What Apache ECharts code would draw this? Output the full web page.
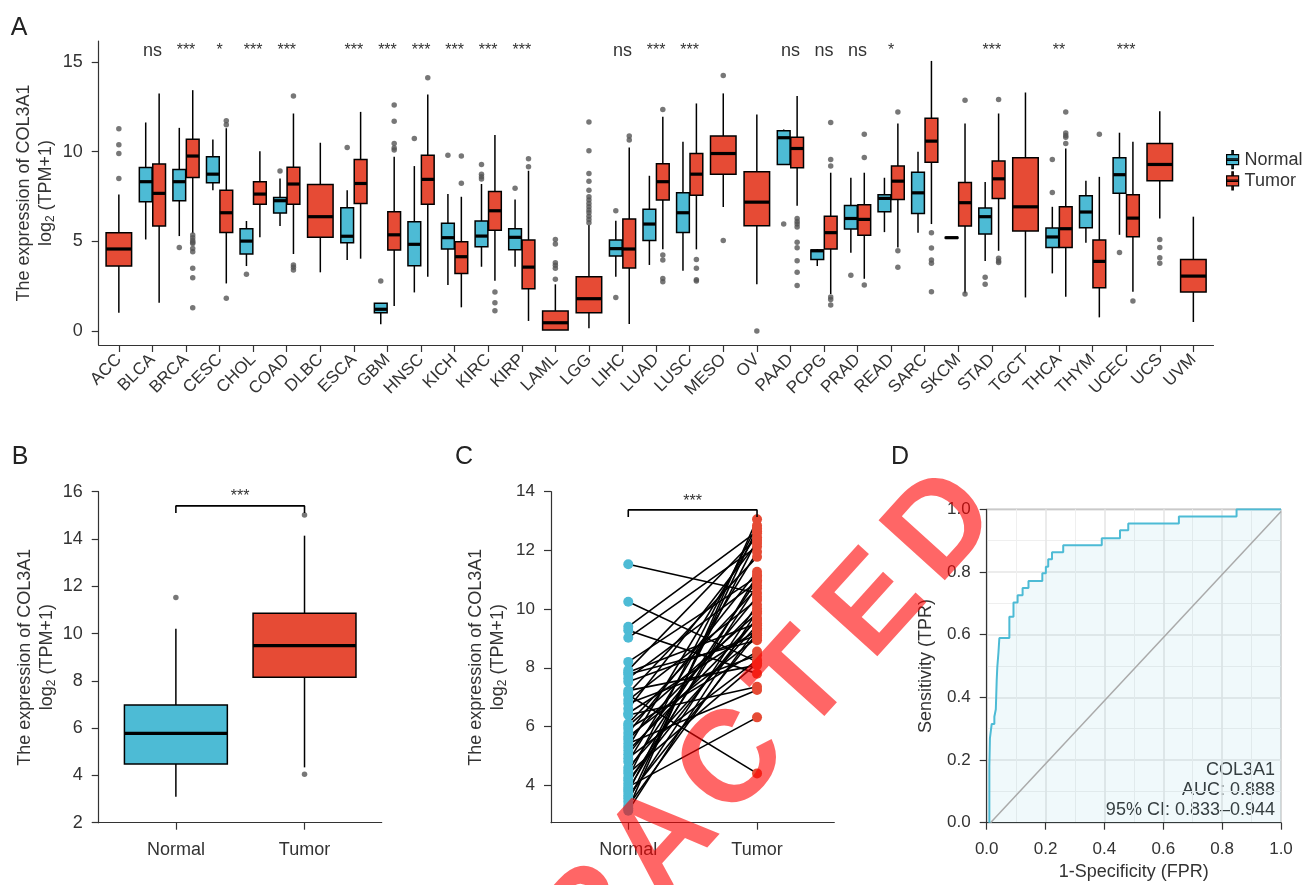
<!DOCTYPE html>
<html>
<head>
<meta charset="utf-8">
<script src="https://cdn.jsdelivr.net/npm/echarts@6/dist/echarts.min.js"></script>
<style>
  html, body { margin: 0; padding: 0; background: #fff; }
  #main { width: 1306px; height: 885px; }
</style>
</head>
<body>
<div id="main"></div>
<script>
var FONT = 'Liberation Sans, Arial, Helvetica, sans-serif';
var BLUE = '#4DBBD5', RED = '#E64B35';

// ---- panel A : pan-cancer box plots ----
var cancers = ['ACC','BLCA','BRCA','CESC','CHOL','COAD','DLBC','ESCA','GBM','HNSC','KICH','KIRC','KIRP',
    'LAML','LGG','LIHC','LUAD','LUSC','MESO','OV','PAAD','PCPG','PRAD','READ','SARC','SKCM','STAD',
    'TGCT','THCA','THYM','UCEC','UCS','UVM'];

// [lower whisker, q1, median, q3, upper whisker]
var normalStats = [
    null, [5.10,7.20,8.32,9.11,11.62], [5.29,7.26,8.32,9.00,11.32], [7.85,8.26,8.74,9.71,10.67],
    [3.62,4.29,5.01,5.70,6.13], [5.85,6.57,7.26,7.44,8.50], null, [3.95,4.92,5.28,6.87,7.85],
    [0.37,1.02,1.21,1.54,1.54], [2.15,3.64,4.83,6.09,9.19], [2.56,4.57,5.20,6.00,7.63],
    [3.58,4.70,5.29,6.13,8.19], [3.58,4.53,5.22,5.70,7.33], null, null, [3.03,4.18,4.59,5.07,6.14],
    [3.68,5.05,5.96,6.78,8.65], [3.36,5.49,6.59,7.70,10.54], null, null, [9.28,9.28,10.77,11.16,11.23],
    [3.62,3.99,4.47,4.51,4.57], [4.36,5.68,6.27,7.00,8.54], [5.51,6.65,7.39,7.59,8.54],
    [5.48,6.55,7.70,8.85,9.99], [5.17,5.18,5.20,5.22,5.23], [3.90,5.40,6.37,6.85,8.30], null,
    [3.21,4.66,5.24,5.74,6.92], [4.92,5.75,6.63,7.54,8.37], [5.36,7.67,8.71,9.65,11.05], null, null
];
var tumorStats = [
    [1.02,3.62,4.57,5.48,7.61], [1.58,5.85,7.67,9.30,13.24], [5.44,8.56,9.75,10.69,13.42],
    [2.65,5.49,6.59,7.85,11.30], [5.22,7.07,7.63,8.32,10.02], [4.29,7.07,8.19,9.13,12.12],
    [3.27,5.22,6.37,8.17,10.49], [4.03,7.11,8.22,9.56,12.21], [1.39,4.51,5.36,6.65,9.71],
    [3.03,7.07,8.45,9.80,13.18], [1.32,3.21,4.14,4.97,7.48], [2.80,5.62,6.70,7.78,10.92],
    [0.56,2.36,3.56,5.07,8.93], [0.06,0.06,0.46,1.11,2.60], [0.15,1.02,1.80,3.03,5.90],
    [0.39,3.51,4.57,6.24,10.23], [4.55,7.30,8.32,9.32,11.94], [4.55,7.57,8.74,9.89,12.68],
    [6.91,8.74,9.89,10.86,13.24], [2.60,5.87,7.18,8.87,12.07], [6.98,9.10,10.17,10.79,13.09],
    [2.06,4.57,5.48,6.40,8.82], [2.91,5.33,6.22,7.04,8.82], [4.66,7.33,8.35,9.19,11.56],
    [5.96,9.41,10.58,11.86,15.05], [2.10,5.85,7.15,8.28,11.56], [4.47,7.39,8.48,9.47,12.12],
    [1.87,5.57,6.92,9.65,13.29], [1.91,4.66,5.70,6.92,10.17], [0.76,2.41,3.88,5.07,8.59],
    [2.19,5.25,6.29,7.59,10.54], [6.27,8.37,9.28,10.45,12.25], [0.50,2.17,3.06,3.99,6.37]
];
var normalOutliers = [
    [], [], [4.66], [], [3.16], [8.91], [], [10.23], [2.78], [10.73], [9.80], [9.28,8.74,8.59,8.47],
    [7.95], [], [], [6.70,1.87], [], [], [], [], [5.96], [], [3.10], [], [], [], [2.99,2.60], [],
    [9.56,7.72], [], [4.38], [], []
];
var tumorOutliers = [
    [11.27,10.38,9.89,8.50], [], [5.35,5.20,5.05,4.95,4.88,4.60,4.42,3.49,2.97,1.30], [11.71,11.50,1.82],
    [], [13.09,3.68,3.55,3.40], [], [], [12.59,11.69,10.45,10.20,10.08], [14.11], [9.75,8.24],
    [2.17,1.58,1.13], [9.60,9.15], [5.10,4.85,3.80,3.66,3.49,2.88],
    [11.64,10.04,8.78,8.35,7.85,7.48,7.30,7.11,6.92,6.74,6.59,6.40,6.22,6.03], [10.86,10.64],
    [12.34,4.23,3.95,2.93,2.75], [3.99,3.49,2.86,2.78], [14.24,5.05], [0.0],
    [6.27,6.10,5.96,5.80,4.94,4.64,3.92,3.27,2.54], [11.62,9.56,9.19,1.90,1.75,1.45], [10.97,9.67,2.56],
    [12.21,4.47,3.55], [5.48,4.62,3.95,3.77,2.19], [12.86,2.06], [12.90,4.05,3.90,3.82], [],
    [12.21,11.04,10.90,10.79,10.45], [10.97], [1.67], [5.10,4.66,4.08,3.77], []
];
var signif = ['', 'ns', '***', '*', '***', '***', '', '***', '***', '***', '***', '***', '***', '', '',
    'ns', '***', '***', '', '', 'ns', 'ns', 'ns', '*', '', '', '***', '', '**', '', '***', '', ''];

// ---- panel B : all normal vs all tumor ----
var groups = ['Normal', 'Tumor'];
var statsB = [[3.10,4.48,5.78,6.98,10.20], [4.34,8.15,9.49,10.86,14.14]];
var outliersB = [[11.52], [15.01,4.05]];

// ---- panel C : paired samples ----
var pairedNormal = [11.53,10.25,9.40,9.28,9.02,8.20,7.92,7.85,7.78,7.64,7.52,7.22,7.13,7.07,6.90,6.78,
    6.60,6.45,6.39,6.10,6.02,5.92,5.78,5.65,5.55,5.42,5.30,5.18,5.05,4.92,4.80,4.60,4.50,4.40,4.26,
    4.17,4.05,3.94,3.85,3.77,3.65,3.55,3.43,3.30,3.20,3.13];
var pairedTumor = [10.55,8.20,12.65,7.80,12.13,11.10,12.45,9.52,8.94,10.93,9.11,8.09,11.78,4.40,10.31,
    8.43,12.25,9.28,7.35,10.70,9.85,8.55,11.27,9.02,10.02,7.24,12.58,9.63,10.42,8.26,11.95,9.45,10.98,
    8.15,12.85,9.70,10.80,6.31,11.15,12.35,9.18,10.15,12.75,9.35,13.06,9.92];

// ---- panel D : ROC ----
var rocFpr = [0.009,0.009,0.011,0.017,0.026,0.031,0.034,0.036,0.040,0.043,0.077,0.091,0.105,0.122,0.142,
    0.189,0.201,0.209,0.222,0.260,0.391,0.453,0.481,0.653,0.849,1.0];
var rocTpr = [0,0.180,0.270,0.315,0.338,0.362,0.455,0.496,0.544,0.589,0.657,0.703,0.726,0.749,0.771,
    0.796,0.817,0.841,0.863,0.885,0.908,0.933,0.955,0.977,1.0,1.0];
var rocText = ['COL3A1', 'AUC: 0.888', '95% CI: 0.833\u20130.944'];

// build box data: [x, low, q1, med, q3, high, halfWidth]
var normalBoxes = [], tumorBoxes = [], outliersA = [], signifA = [], signifText = [];
cancers.forEach(function (c, i) {
    var x = i + 1, paired = normalStats[i] != null;
    if (paired) normalBoxes.push([x - 0.2].concat(normalStats[i], [0.19]));
    tumorBoxes.push([paired ? x + 0.2 : x].concat(tumorStats[i], [paired ? 0.19 : 0.38]));
    normalOutliers[i].forEach(function (v) { outliersA.push([x - 0.2, v]); });
    tumorOutliers[i].forEach(function (v) { outliersA.push([paired ? x + 0.2 : x, v]); });
    if (signif[i]) { signifA.push([x, 15.6]); signifText.push(signif[i]); }
});
var boxesB = statsB.map(function (s, i) {
    return {value: [i + 1].concat(s, [0.4]), itemStyle: {color: i === 0 ? BLUE : RED}};
});
var outB = [];
outliersB.forEach(function (arr, i) { arr.forEach(function (v) { outB.push([i + 1, v]); }); });

function renderBox(params, api) {
    var x = api.value(0), hw = api.value(6);
    var lo = api.coord([x, api.value(1)]), q1 = api.coord([x, api.value(2)]);
    var md = api.coord([x, api.value(3)]), q3 = api.coord([x, api.value(4)]);
    var hi = api.coord([x, api.value(5)]);
    var l = api.coord([x - hw, 0])[0], r = api.coord([x + hw, 0])[0];
    var ln = {stroke: '#000', lineWidth: 1.5};
    return {type: 'group', children: [
        {type: 'line', shape: {x1: lo[0], y1: lo[1], x2: q1[0], y2: q1[1]}, style: ln},
        {type: 'line', shape: {x1: q3[0], y1: q3[1], x2: hi[0], y2: hi[1]}, style: ln},
        {type: 'rect', shape: {x: l, y: q3[1], width: r - l, height: q1[1] - q3[1]},
            style: {fill: api.visual('color'), stroke: '#000', lineWidth: 1.5}},
        {type: 'line', shape: {x1: l, y1: md[1], x2: r, y2: md[1]}, style: {stroke: '#000', lineWidth: 3.2}}
    ]};
}
function textRenderer(labels) {
    return function (params, api) {
        var p = api.coord([api.value(0), api.value(1)]);
        var t = labels[params.dataIndex];
        return {type: 'text', x: p[0], y: p[1], style: {text: t, fill: '#333',
            fontSize: t === 'ns' ? 18 : 16, fontFamily: FONT, align: 'center', verticalAlign: 'middle'}};
    };
}

var axisLine = {show: true, onZero: false, lineStyle: {color: '#333', width: 1.2}};
function mkAxis(grid, min, max, ticks, fmt, labelSize, margin) {
    return {
        gridIndex: grid, type: 'value', min: min, max: max,
        axisLine: axisLine,
        axisTick: {show: true, length: 7, customValues: ticks, lineStyle: {color: '#333', width: 1.2}},
        axisLabel: {customValues: ticks, formatter: fmt, color: '#333', fontSize: labelSize,
            fontFamily: FONT, margin: margin},
        splitLine: {show: false}
    };
}
var yTitle = '{a|The expression of COL3A1}\n{a|log}{s|2}{a| (TPM+1)}';
var yTitleStyle = {color: '#333', fontFamily: FONT, fontSize: 18,
    rich: {a: {fontSize: 18, fontFamily: FONT, color: '#333', lineHeight: 22},
           s: {fontSize: 12, fontFamily: FONT, color: '#333', verticalAlign: 'bottom'}}};
function withName(ax, name, gap, style) {
    ax.name = name; ax.nameLocation = 'middle'; ax.nameGap = gap; ax.nameTextStyle = style;
    ax.nameMoveOverlap = false;
    return ax;
}

var catTicks = cancers.map(function (c, i) { return i + 1; });
var grpFmt = function (v) { return groups[v - 1]; };
var fmt0 = function (v) { return String(v); };
var fmt1 = function (v) { return v.toFixed(1); };
var unitTicks = [0, 0.2, 0.4, 0.6, 0.8, 1.0];

var xA = mkAxis(0, 0.4, 33.6, catTicks, function (v) { return cancers[v - 1]; }, 17, 12);
xA.axisLabel.rotate = 45;
var xD = withName(mkAxis(3, 0, 1, unitTicks, fmt1, 17, 18), '1-Specificity (FPR)', 40,
    {color: '#333', fontFamily: FONT, fontSize: 18});
var yD = withName(mkAxis(3, 0, 1, unitTicks, fmt1, 17, 16), 'Sensitivity (TPR)', 52,
    {color: '#333', fontFamily: FONT, fontSize: 18});
[xD, yD].forEach(function (ax) {
    ax.interval = 0.2;
    ax.splitLine = {show: true, lineStyle: {color: '#e6e6e6', width: 1.6}};
    ax.minorTick = {show: false, splitNumber: 2};
    ax.minorSplitLine = {show: true, lineStyle: {color: '#efefef', width: 1}};
});

var watermark = 'RETRACTED'.split('').map(function (ch, i) {
    return {type: 'text', x: 664 + (i - 4) * 70, y: 842 - (i - 4) * 78.5, rotation: 0.835, z: 100,
        style: {text: ch, fill: 'rgba(255,0,0,0.6)', fontSize: 130, fontWeight: 'bold', fontFamily: FONT,
            align: 'center', verticalAlign: 'middle'}};
});
var panelLetters = [['A', 19, 28], ['B', 20, 457], ['C', 464, 457], ['D', 900, 457]].map(function (p) {
    return {type: 'text', x: p[1], y: p[2], style: {text: p[0], fill: '#222', fontSize: 25, fontFamily: FONT,
        align: 'center', verticalAlign: 'middle'}};
});
var aucLabels = rocText.map(function (t, i) {
    return {type: 'text', x: 1275, y: 770 + i * 20, style: {text: t, fill: '#333', fontSize: 18,
        fontFamily: FONT, align: 'right', verticalAlign: 'middle'}};
});

var chart = echarts.init(document.getElementById('main'));
chart.setOption({
    animation: false,
    textStyle: {fontFamily: FONT},
    grid: [
        {left: 98.7, top: 41, width: 1114.8, height: 304, outerBoundsMode: 'none'},
        {left: 98.7, top: 491.7, width: 283, height: 331, outerBoundsMode: 'none'},
        {left: 551, top: 491.7, width: 283.3, height: 331, outerBoundsMode: 'none'},
        {left: 986.7, top: 509.3, width: 294.3, height: 313.4, outerBoundsMode: 'none',
            show: true, borderColor: '#555', borderWidth: 1, backgroundColor: '#fff'}
    ],
    xAxis: [
        xA,
        mkAxis(1, 0.4, 2.6, [1, 2], grpFmt, 18, 18),
        mkAxis(2, 0.4, 2.6, [1, 2], grpFmt, 18, 18),
        xD
    ],
    yAxis: [
        withName(mkAxis(0, -0.78, 16.16, [0, 5, 10, 15], fmt0, 18, 16), yTitle, 42, yTitleStyle),
        withName(mkAxis(1, 2, 16, [2, 4, 6, 8, 10, 12, 14, 16], fmt0, 18, 16), yTitle, 41, yTitleStyle),
        withName(mkAxis(2, 2.72, 14, [4, 6, 8, 10, 12, 14], fmt0, 17, 16), yTitle, 42, yTitleStyle),
        yD
    ],
    legend: {
        data: ['Normal', 'Tumor'], orient: 'vertical', left: 1221, top: 145, selectedMode: false,
        itemWidth: 14, itemHeight: 18, itemGap: 2,
        icon: 'path://M1,4H13V14H1Z M1,8.3H13V9.7H1Z M6.3,0H7.7V4H6.3Z M6.3,14H7.7V18H6.3Z',
        itemStyle: {borderColor: '#000', borderWidth: 1.2},
        textStyle: {fontSize: 18, color: '#333', fontFamily: FONT}
    },
    graphic: panelLetters.concat(aucLabels, watermark),
    series: [
        // A
        {type: 'custom', name: 'Normal', xAxisIndex: 0, yAxisIndex: 0, data: normalBoxes,
            itemStyle: {color: BLUE}, renderItem: renderBox, encode: {x: 0, y: [1, 2, 3, 4, 5]}},
        {type: 'custom', name: 'Tumor', xAxisIndex: 0, yAxisIndex: 0, data: tumorBoxes,
            itemStyle: {color: RED}, renderItem: renderBox, encode: {x: 0, y: [1, 2, 3, 4, 5]}},
        {type: 'scatter', xAxisIndex: 0, yAxisIndex: 0, data: outliersA, symbolSize: 5.5,
            itemStyle: {color: '#555'}},
        {type: 'custom', xAxisIndex: 0, yAxisIndex: 0, data: signifA,
            renderItem: textRenderer(signifText), encode: {x: 0, y: 1}},
        // B
        {type: 'custom', xAxisIndex: 1, yAxisIndex: 1, data: boxesB, renderItem: renderBox,
            encode: {x: 0, y: [1, 2, 3, 4, 5]}},
        {type: 'scatter', xAxisIndex: 1, yAxisIndex: 1, data: outB, symbolSize: 5.5, itemStyle: {color: '#555'}},
        {type: 'line', xAxisIndex: 1, yAxisIndex: 1, data: [[1, 15.1], [1, 15.4], [2, 15.4], [2, 15.1]],
            showSymbol: false, lineStyle: {color: '#000', width: 1.6}},
        {type: 'custom', xAxisIndex: 1, yAxisIndex: 1, data: [[1.5, 15.78]],
            renderItem: textRenderer(['***']), encode: {x: 0, y: 1}},
        // C
        {type: 'custom', xAxisIndex: 2, yAxisIndex: 2,
            data: pairedNormal.map(function (v, i) { return [1, v, 2, pairedTumor[i]]; }),
            encode: {x: [0, 2], y: [1, 3]},
            renderItem: function (params, api) {
                var a = api.coord([api.value(0), api.value(1)]), b = api.coord([api.value(2), api.value(3)]);
                return {type: 'line', shape: {x1: a[0], y1: a[1], x2: b[0], y2: b[1]},
                    style: {stroke: '#000', lineWidth: 1.6}};
            }},
        {type: 'scatter', xAxisIndex: 2, yAxisIndex: 2, symbolSize: 10, itemStyle: {color: BLUE, opacity: 1},
            data: pairedNormal.map(function (v) { return [1, v]; })},
        {type: 'scatter', xAxisIndex: 2, yAxisIndex: 2, symbolSize: 10, itemStyle: {color: RED, opacity: 1},
            data: pairedTumor.map(function (v) { return [2, v]; })},
        {type: 'line', xAxisIndex: 2, yAxisIndex: 2, data: [[1, 13.14], [1, 13.38], [2, 13.38], [2, 13.14]],
            showSymbol: false, lineStyle: {color: '#000', width: 1.6}},
        {type: 'custom', xAxisIndex: 2, yAxisIndex: 2, data: [[1.5, 13.66]],
            renderItem: textRenderer(['***']), encode: {x: 0, y: 1}},
        // D
        {type: 'line', xAxisIndex: 3, yAxisIndex: 3, data: [[0.013, 0], [1, 0.993]], showSymbol: false,
            lineStyle: {color: '#aaaaaa', width: 1.5}},
        {type: 'line', xAxisIndex: 3, yAxisIndex: 3, step: 'end', showSymbol: false,
            data: rocFpr.map(function (f, i) { return [f, rocTpr[i]]; }),
            lineStyle: {color: BLUE, width: 2}, areaStyle: {color: 'rgba(77,187,213,0.12)'}}
    ]
});
</script>
</body>
</html>
